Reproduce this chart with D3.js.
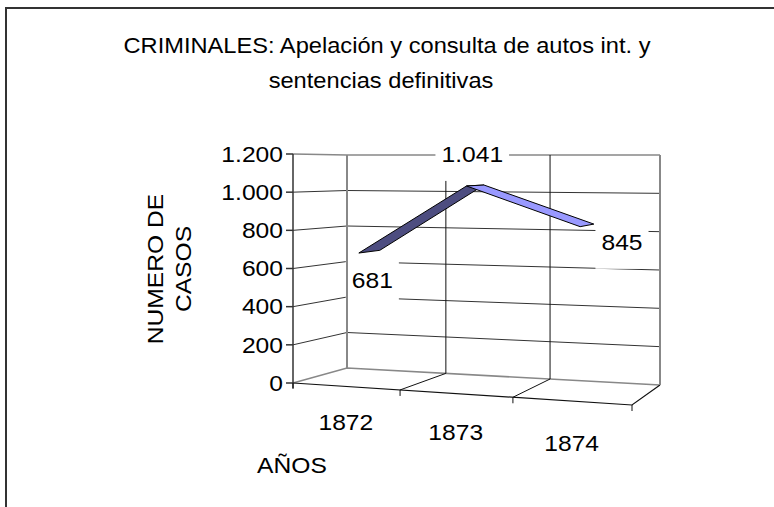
<!DOCTYPE html>
<html>
<head>
<meta charset="utf-8">
<script src="https://cdn.jsdelivr.net/npm/d3@7"></script>
<style>
  body { margin: 0; background: #fff; }
  text { font-family: "Liberation Sans", Arial, Helvetica, sans-serif; fill: #000; }
</style>
</head>
<body>
<div id="chart"></div>
<script>
// datos
const years = ["1872", "1873", "1874"];
const casos = [681, 1041, 845];
const yTicks = [0, 200, 400, 600, 800, 1000, 1200];
const titleLines = ["CRIMINALES: Apelación y consulta de autos int. y", "sentencias definitivas"];
const yTitleLines = ["NUMERO DE", "CASOS"];
const xTitle = "AÑOS";

const width = 774, height = 507;
const svg = d3.select("#chart").append("svg")
    .attr("width", width)
    .attr("height", height);

// caja 3D (esquinas del área de trazado en pantalla)
const box = {
    flb: [293, 383], flt: [293, 154], frb: [632, 405], frt: [632, 156],
    blb: [347, 368], blt: [347, 155], brb: [660, 385], brt: [660, 155]
};
const lerp = (a, b, t) => [a[0] + (b[0] - a[0]) * t, a[1] + (b[1] - a[1]) * t];
function proj(u, t, d) {
    const f = lerp(lerp(box.flb, box.frb, u), lerp(box.flt, box.frt, u), t);
    const b = lerp(lerp(box.blb, box.brb, u), lerp(box.blt, box.brt, u), t);
    return lerp(f, b, d);
}

const persp = 1.083;
const x = d3.scaleLinear().domain([0, years.length]).range([0, 1]);
const ux = i => { const u = x(i); return u / (persp + (1 - persp) * u); };
const y = d3.scaleLinear().domain([0, 1200]).range([0, 1]);
const line = d3.line();
const fmt = d3.formatLocale({ decimal: ",", thousands: ".", grouping: [3], currency: ["", "€"] }).format(",");

const sx = 1.12;
function addText(str, px, py, opts = {}) {
    const g = svg.append("g")
        .attr("transform", `translate(${px},${py}) rotate(${opts.rotate || 0}) scale(${opts.sx || sx},1)`);
    g.append("text")
        .attr("text-anchor", opts.anchor || "middle")
        .attr("font-size", opts.size || 22)
        .attr("dy", opts.dy || "0.35em")
        .text(str);
    return g;
}

// marco
svg.append("path")
    .attr("d", "M6,507V8H774")
    .attr("fill", "none")
    .attr("stroke", "#333")
    .attr("stroke-width", 2);

const grid = svg.append("g").attr("fill", "none");

// líneas de división en pared izquierda y fondo
yTicks.forEach(v => {
    const t = y(v);
    const pts = [proj(0, t, 0), proj(0, t, 1), proj(1, t, 1)];
    grid.append("path")
        .attr("d", line(pts))
        .attr("stroke", v === 0 || v === 1200 ? "#888" : "#333")
        .attr("stroke-width", v === 0 || v === 1200 ? 1.6 : 1);
});

// divisiones de categorías (fondo y suelo)
d3.range(1, years.length).forEach(i => {
    const u = ux(i);
    grid.append("path")
        .attr("d", line([proj(u, 0, 0), proj(u, 0, 1), proj(u, 1, 1)]))
        .attr("stroke", "#111")
        .attr("stroke-width", 1);
});

// suelo: borde frontal y derecho
grid.append("path")
    .attr("d", line([proj(0, 0, 0), proj(1, 0, 0), proj(1, 0, 1)]))
    .attr("stroke", "#111").attr("stroke-width", 1.2);

// eje vertical frontal
const axis = svg.append("g").attr("fill", "none").attr("stroke", "#333").attr("stroke-width", 1.5);
axis.append("path").attr("d", line([proj(0, 1, 0), [proj(0, 0, 0)[0], proj(0, 0, 0)[1] + 5]]));
yTicks.forEach(v => {
    const p = proj(0, y(v), 0);
    axis.append("path").attr("d", line([[p[0] - 7, p[1]], p]));
});
d3.range(0, years.length + 1).forEach(i => {
    const p = proj(ux(i), 0, 0);
    axis.append("path").attr("d", line([p, [p[0], p[1] + 6]]))
        .attr("stroke", "#111").attr("stroke-width", 1);
});

// cinta de la serie
const d0 = 0.26, d1 = 0.68;
const front = casos.map((v, i) => proj(ux(i + 0.5), y(v), d0));
const back = casos.map((v, i) => proj(ux(i + 0.5), y(v), d1));
const ribbon = svg.append("g");
for (let i = 0; i < casos.length - 1; i++) {
    const up = casos[i + 1] > casos[i];
    ribbon.append("path")
        .attr("d", line([front[i], front[i + 1], back[i + 1], back[i]]) + "Z")
        .attr("fill", up ? "#4d4d80" : "#9999ff")
        .attr("stroke", "#000")
        .attr("stroke-width", 1)
        .attr("stroke-linejoin", "round");
}

// etiquetas de datos
const labelOffsets = [[3, 29], [-3, -31], [35, 17]];
casos.forEach((v, i) => {
    const c = lerp(front[i], back[i], 0.5);
    const g = addText(fmt(v), c[0] + labelOffsets[i][0], c[1] + labelOffsets[i][1], { size: 22 });
    const bb = g.select("text").node().getBBox();
    g.insert("rect", "text")
        .attr("x", bb.x - 6 / sx).attr("y", bb.y - 14)
        .attr("width", bb.width + 12 / sx).attr("height", bb.height + 28)
        .attr("fill", "#fff");
});

// bordes de las paredes (encima de los recuadros de etiquetas)
const edges = svg.append("g").attr("fill", "none").attr("stroke", "#888").attr("stroke-width", 2);
edges.append("path").attr("d", line([proj(0, 0, 1), proj(0, 1, 1)]));
edges.append("path").attr("d", line([proj(1, 0, 1), proj(1, 1, 1)]));

// etiquetas del eje Y
yTicks.forEach(v => {
    const p = proj(0, y(v), 0);
    addText(fmt(v), p[0] - 10, p[1], { anchor: "end", size: 22 });
});

// etiquetas de categorías
years.forEach((yr, i) => {
    const p = proj(ux(i + 0.5), 0, 0);
    addText(yr, p[0], p[1] + 36 + i * 3, { size: 22 });
});

// títulos
addText(titleLines[0], 387, 45, { size: 21.5, sx: 1.1 });
addText(titleLines[1], 381, 80, { size: 21.5, sx: 1.1 });
addText(yTitleLines[0], 155, 269, { rotate: -90, size: 22 });
addText(yTitleLines[1], 183, 269, { rotate: -90, size: 22 });
addText(xTitle, 292, 465, { size: 22 });
</script>
</body>
</html>
